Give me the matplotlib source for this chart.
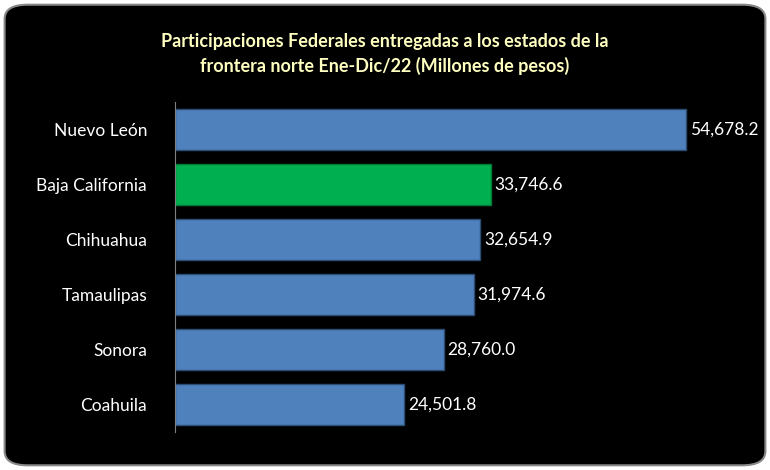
import matplotlib
matplotlib.use("Agg")
import matplotlib.pyplot as plt
from matplotlib.patches import FancyBboxPatch

states = ["Nuevo León", "Baja California", "Chihuahua", "Tamaulipas", "Sonora", "Coahuila"]
values = [54678.2, 33746.6, 32654.9, 31974.6, 28760.0, 24501.8]
colors = ["#4F81BD", "#00B050", "#4F81BD", "#4F81BD", "#4F81BD", "#4F81BD"]
edges = ["#2C4D75", "#007A38", "#2C4D75", "#2C4D75", "#2C4D75", "#2C4D75"]

plt.rcParams["font.family"] = "Lato"
fig = plt.figure(figsize=(7.7, 4.7), dpi=100, facecolor="white")
bg = FancyBboxPatch((0.006, 0.01), 0.988, 0.98, boxstyle="round,pad=0,rounding_size=0.03",
                    transform=fig.transFigure, facecolor="black", edgecolor="#888888", lw=1.5,
                    zorder=-10)
fig.patches.append(bg)

ax = fig.add_axes([0.227, 0.081, 0.729, 0.702])
ax.set_zorder(5)
ax.set_facecolor("none")
ypos = list(range(len(states)))[::-1]
ax.barh(ypos, values, height=0.73, color=colors, edgecolor=edges, linewidth=1)
for y, v in zip(ypos, values):
    ax.text(v + 400, y, f"{v:,.1f}", color="white", va="center", ha="left", fontsize=12.5)
ax.set_yticks(ypos)
ax.set_yticklabels(states, color="white", fontsize=12.5)
ax.set_ylim(-0.5, 5.5)
ax.set_xlim(0, 60000)
ax.set_xticks([])
for s in ["top", "right", "bottom"]:
    ax.spines[s].set_visible(False)
ax.spines["left"].set_color("#808080")
ax.tick_params(axis="y", length=0, pad=20)

fig.text(0.5, 0.885, "Participaciones Federales entregadas a los estados de la\nfrontera norte Ene-Dic/22 (Millones de pesos)",
         ha="center", va="center", color="#FFFFC0", fontsize=13, fontweight="bold", linespacing=1.5)
fig.savefig("out.png", dpi=100, facecolor="white")
